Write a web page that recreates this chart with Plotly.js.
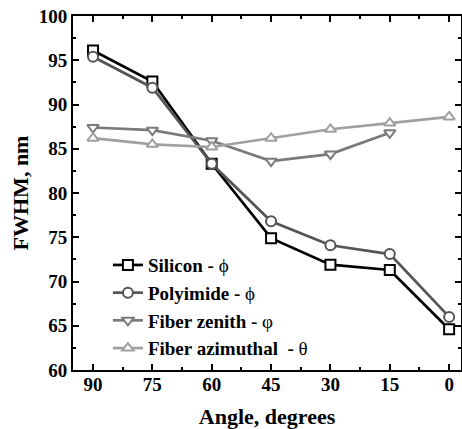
<!DOCTYPE html>
<html><head><meta charset="utf-8">
<script src="https://cdn.plot.ly/plotly-3.0.1.min.js"></script>
<style>body{margin:0;padding:0;background:#fff}#chart{width:462px;height:429px}</style>
</head><body><div id="chart"></div>
<script>
const angles = [90, 75, 60, 45, 30, 15, 0];
const siliconPhi = [96.1, 92.6, 83.3, 74.9, 71.9, 71.3, 64.6];
const polyimidePhi = [95.4, 91.9, 83.3, 76.8, 74.1, 73.1, 66.0];
const zenithAngles = [90, 75, 60, 45, 30, 15];
const fiberZenith = [87.4, 87.1, 85.9, 83.6, 84.4, 86.8];
const fiberAzimuthal = [86.2, 85.5, 85.2, 86.2, 87.2, 87.9, 88.6];
const xTicks = [90, 75, 60, 45, 30, 15, 0];
const sym = s => ' <span style="font-weight:normal;color:#000">' + s + '</span>';
const names = ['Silicon -' + sym('ϕ'), 'Polyimide -' + sym('ϕ'),
               'Fiber zenith -' + sym('φ'), 'Fiber azimuthal  -' + sym('θ')];

function tr(x, y, name, color, symbol) {
  return {x: x, y: y, name: name, type: 'scatter', mode: 'lines+markers',
    line: {color: color, width: 2.7},
    marker: {symbol: symbol, size: 10, color: '#ffffff', line: {color: color, width: 2}}};
}
const data = [
  tr(angles, siliconPhi, names[0], '#000000', 'square'),
  tr(angles, polyimidePhi, names[1], '#555555', 'circle'),
  tr(zenithAngles, fiberZenith, names[2], '#7a7a7a', 'triangle-down'),
  tr(angles, fiberAzimuthal, names[3], '#a0a0a0', 'triangle-up')
];
const fam = '"Liberation Serif", "Times New Roman", serif';
const layout = {
  width: 462, height: 429,
  margin: {l: 73, r: 1, t: 16, b: 59},
  paper_bgcolor: '#fff', plot_bgcolor: '#fff',
  font: {family: fam, size: 17, color: '#000'},
  showlegend: true,
  legend: {x: 0.09, y: 0.35, xanchor: 'left', yanchor: 'top', bgcolor: 'rgba(0,0,0,0)',
    font: {family: fam, size: 19, color: '#000', weight: 'bold'}, tracegroupgap: 0, itemwidth: 30},
  xaxis: {
    range: [95.06, -3], tickvals: xTicks, ticktext: xTicks.map(String),
    ticks: 'inside', ticklen: 6, tickwidth: 2, tickcolor: '#000',
    minor: {dtick: 7.5, tick0: 0, ticks: 'inside', ticklen: 3, tickwidth: 2, tickcolor: '#000'},
    showline: true, linewidth: 2, linecolor: '#000', mirror: 'ticks',
    showgrid: false, zeroline: false, ticklabelstandoff: -4,
    tickfont: {family: fam, size: 19, color: '#000', weight: 'bold'},
    title: {text: 'Angle, degrees', standoff: 17, font: {family: fam, size: 22, color: '#000', weight: 'bold'}}
  },
  yaxis: {
    range: [60, 100], dtick: 5, tick0: 60,
    ticks: 'inside', ticklen: 6, tickwidth: 2, tickcolor: '#000',
    minor: {dtick: 2.5, ticks: 'inside', ticklen: 3, tickwidth: 2, tickcolor: '#000'},
    showline: true, linewidth: 2, linecolor: '#000', mirror: 'ticks',
    showgrid: false, zeroline: false,
    tickfont: {family: fam, size: 19, color: '#000', weight: 'bold'},
    title: {text: 'FWHM, nm', standoff: 4, font: {family: fam, size: 22, color: '#000', weight: 'bold'}}
  }
};
Plotly.newPlot('chart', data, layout, {displayModeBar: false, staticPlot: true});
</script>
</body></html>
